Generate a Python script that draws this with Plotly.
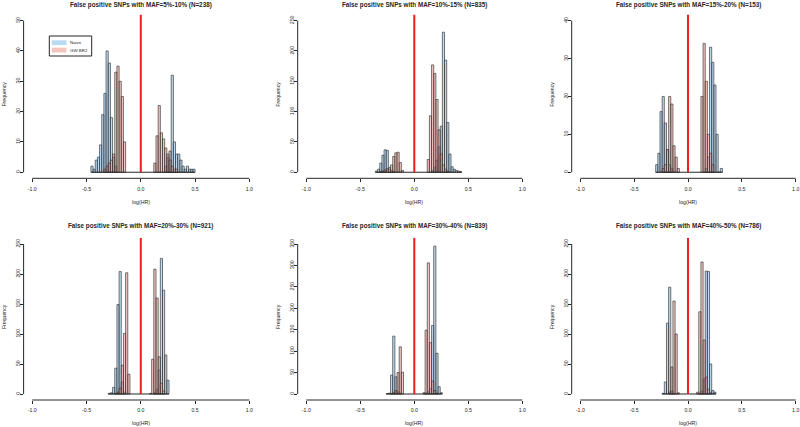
import plotly.graph_objects as go

# ---------------- data ----------------
BIN_WIDTH = 0.02
series_names = ["Naive", "GW BR2"]
panel_titles = [
    "False positive SNPs with MAF=5%-10% (N=238)",
    "False positive SNPs with MAF=10%-15% (N=835)",
    "False positive SNPs with MAF=15%-20% (N=153)",
    "False positive SNPs with MAF=20%-30% (N=921)",
    "False positive SNPs with MAF=30%-40% (N=839)",
    "False positive SNPs with MAF=40%-50% (N=786)",
]
y_limits = [50, 250, 40, 250, 350, 250]
y_tick_steps = [10, 50, 10, 50, 50, 50]
x_tick_values = [-1.0, -0.5, 0.0, 0.5, 1.0]
x_tick_labels = ["-1.0", "-0.5", "0.0", "0.5", "1.0"]
x_label = "log(HR)"
y_label = "Frequency"

# counts per 0.02-wide bin: first left edge + counts, for left and right clusters
p1_naive_left_from, p1_naive_left = -0.46, [2, 1, 4, 5, 9, 19, 26, 40, 36, 18, 5, 2]
p1_naive_right_from, p1_naive_right = 0.22, [2, 5, 7, 32, 10, 6, 6, 4, 2, 1, 2, 1, 1, 1]
p1_gw_left_from, p1_gw_left = -0.34, [1, 2, 3, 4, 6, 33, 35, 30, 25, 10]
p1_gw_right_from, p1_gw_right = 0.12, [3, 12, 22, 13, 11, 8, 6, 4, 2, 1, 1]

p2_naive_left_from, p2_naive_left = -0.36, [2, 5, 15, 28, 37, 36, 8, 3, 1]
p2_naive_right_from, p2_naive_right = 0.16, [3, 8, 20, 42, 76, 231, 185, 82, 30, 9, 5, 3, 2, 1]
p2_gw_left_from, p2_gw_left = -0.32, [1, 2, 4, 6, 5, 12, 26, 32, 33, 16, 3]
p2_gw_right_from, p2_gw_right = 0.12, [21, 93, 177, 163, 120, 70, 30, 12, 5, 2]

p3_naive_left_from, p3_naive_left = -0.30, [2, 5, 16, 20, 13, 6, 2, 1]
p3_naive_right_from, p3_naive_right = 0.16, [1, 4, 33, 29, 23, 10, 0, 1]
p3_gw_left_from, p3_gw_left = -0.24, [1, 2, 6, 20, 18, 7, 4, 1]
p3_gw_right_from, p3_gw_right = 0.12, [20, 34, 24, 10, 5, 2]

p4_naive_left_from, p4_naive_left = -0.30, [1, 2, 11, 43, 149, 204, 20, 3]
p4_naive_right_from, p4_naive_right = 0.12, [2, 8, 40, 226, 173, 65, 23]
p4_gw_left_from, p4_gw_left = -0.24, [1, 3, 10, 48, 101, 202, 33]
p4_gw_right_from, p4_gw_right = 0.08, [1, 58, 208, 160, 62, 18, 5]

p5_naive_left_from, p5_naive_left = -0.26, [1, 2, 44, 135, 40, 5, 2]
p5_naive_right_from, p5_naive_right = 0.10, [2, 5, 12, 160, 345, 95, 17, 3]
p5_gw_left_from, p5_gw_left = -0.22, [1, 3, 8, 50, 110, 51]
p5_gw_right_from, p5_gw_right = 0.08, [3, 149, 306, 120, 30, 8, 2]

p6_naive_left_from, p6_naive_left = -0.24, [1, 20, 118, 178, 5, 1]
p6_naive_right_from, p6_naive_right = 0.10, [1, 5, 25, 205, 204, 50, 6, 3]
p6_gw_left_from, p6_gw_left = -0.18, [3, 45, 155, 100, 2]
p6_gw_right_from, p6_gw_right = 0.08, [3, 137, 220, 90, 28, 8, 2]

panels = [
    [(p1_naive_left_from, p1_naive_left, p1_naive_right_from, p1_naive_right),
     (p1_gw_left_from, p1_gw_left, p1_gw_right_from, p1_gw_right)],
    [(p2_naive_left_from, p2_naive_left, p2_naive_right_from, p2_naive_right),
     (p2_gw_left_from, p2_gw_left, p2_gw_right_from, p2_gw_right)],
    [(p3_naive_left_from, p3_naive_left, p3_naive_right_from, p3_naive_right),
     (p3_gw_left_from, p3_gw_left, p3_gw_right_from, p3_gw_right)],
    [(p4_naive_left_from, p4_naive_left, p4_naive_right_from, p4_naive_right),
     (p4_gw_left_from, p4_gw_left, p4_gw_right_from, p4_gw_right)],
    [(p5_naive_left_from, p5_naive_left, p5_naive_right_from, p5_naive_right),
     (p5_gw_left_from, p5_gw_left, p5_gw_right_from, p5_gw_right)],
    [(p6_naive_left_from, p6_naive_left, p6_naive_right_from, p6_naive_right),
     (p6_gw_left_from, p6_gw_left, p6_gw_right_from, p6_gw_right)],
]

# ---------------- style / layout ----------------
W, H = 800, 427
FONT = "Liberation Sans"
INK = "#262626"
fills = ["rgba(110,175,230,0.45)", "rgba(235,125,105,0.42)"]
legend_fills = ["rgb(186,218,244)", "rgb(244,196,190)"]

col_px = [(23.6, 258.0), (297.7, 530.9), (571.7, 800.0)]
col_xrange = [(-1.08, 1.08), (-1.08, 1.08), (-1.08, 1.04)]
row_px = [(14.6, 178.3), (238.0, 400.0)]
title_y_px = [4.5, 225.5]
xlab_y_px = [201.5, 422.5]
ylab_dx_px = 19.5


def px_x(v):
    return v / W


def px_y(v):
    return 1 - v / H


def bin_centers(start, counts):
    return [round(start + BIN_WIDTH * (i + 0.5), 5) for i in range(len(counts))]


fig = go.Figure()
shapes = []
annotations = []
layout = {}

for p in range(6):
    r, c = divmod(p, 3)
    ax = "" if p == 0 else str(p + 1)
    xa, ya = "x" + ax, "y" + ax
    ylim = y_limits[p]

    lo_edge, hi_edge = 10.0, -10.0
    for s, (lf, lc, rf, rc) in enumerate(panels[p]):
        xs = bin_centers(lf, lc) + bin_centers(rf, rc)
        ys = lc + rc
        lo_edge = min(lo_edge, lf)
        hi_edge = max(hi_edge, rf + BIN_WIDTH * len(rc))
        fig.add_trace(go.Bar(
            x=xs, y=ys, width=BIN_WIDTH, name=series_names[s],
            marker=dict(color=fills[s], line=dict(color="#3a3a3a", width=0.7)),
            xaxis=xa, yaxis=ya, showlegend=False,
        ))
    # baseline of empty bins
    fig.add_trace(go.Scatter(
        x=[lo_edge, hi_edge], y=[0, 0], mode="lines",
        line=dict(color=INK, width=1), xaxis=xa, yaxis=ya,
        showlegend=False, hoverinfo="skip",
    ))

    x0p, x1p = col_px[c]
    y0p, y1p = row_px[r]
    layout["xaxis" + ax] = dict(
        domain=[px_x(x0p), px_x(x1p)], range=list(col_xrange[c]), anchor=ya,
        tickvals=x_tick_values, ticktext=x_tick_labels, ticks="outside",
        ticklen=3, tickwidth=1, tickcolor=INK, showline=False, showgrid=False,
        zeroline=False, tickfont=dict(family=FONT, size=5.2, color=INK),
        ticklabelstandoff=2,
    )
    yt = list(range(0, ylim + 1, y_tick_steps[p]))
    layout["yaxis" + ax] = dict(
        domain=[px_y(y1p), px_y(y0p)], range=[-0.04 * ylim, 1.04 * ylim],
        anchor=xa, tickvals=yt, ticktext=[str(v) for v in yt], ticks="outside",
        ticklen=2.5, tickwidth=1, tickcolor=INK, showline=False, showgrid=False,
        zeroline=False, tickangle=-90,
        tickfont=dict(family=FONT, size=5.2, color=INK), ticklabelstandoff=-2,
    )
    # R-style axis lines (first to last tick)
    shapes.append(dict(type="line", xref=xa, yref=ya + " domain",
                       x0=x_tick_values[0], x1=x_tick_values[-1], y0=0, y1=0,
                       line=dict(color=INK, width=1)))
    shapes.append(dict(type="line", xref=xa + " domain", yref=ya,
                       x0=0, x1=0, y0=yt[0], y1=yt[-1],
                       line=dict(color=INK, width=1)))
    # red reference line at log(HR)=0
    shapes.append(dict(type="line", xref=xa, yref=ya, x0=0, x1=0,
                       y0=0, y1=1.04 * ylim, line=dict(color="#ee1c1c", width=2)))

    annotations.append(dict(text="<b>" + panel_titles[p] + "</b>", xref=xa, x=0,
                            yref="paper", y=px_y(title_y_px[r]), showarrow=False,
                            xanchor="center", yanchor="middle",
                            font=dict(family=FONT, size=6.3, color=INK)))
    annotations.append(dict(text=x_label, xref=xa, x=0, yref="paper",
                            y=px_y(xlab_y_px[r]), showarrow=False,
                            xanchor="center", yanchor="middle",
                            font=dict(family=FONT, size=5.2, color=INK)))
    annotations.append(dict(text=y_label, xref="paper", x=px_x(x0p - ylab_dx_px),
                            yref="paper", y=px_y((y0p + y1p) / 2 - 2),
                            showarrow=False, textangle=-90,
                            xanchor="center", yanchor="middle",
                            font=dict(family=FONT, size=5.2, color=INK)))

# legend box (panel 1), drawn R-style
lg_box = (49.3, 36.0, 91.7, 56.0)
shapes.append(dict(type="rect", xref="paper", yref="paper",
                   x0=px_x(lg_box[0]), x1=px_x(lg_box[2]),
                   y0=px_y(lg_box[3]), y1=px_y(lg_box[1]),
                   line=dict(color=INK, width=1), fillcolor="white", layer="below"))
for i, name in enumerate(series_names):
    yc = 42.7 + i * 7.4
    shapes.append(dict(type="rect", xref="paper", yref="paper",
                       x0=px_x(51.8), x1=px_x(66.5), y0=px_y(yc + 2.4), y1=px_y(yc - 2.4),
                       line=dict(width=0), fillcolor=legend_fills[i]))
    annotations.append(dict(text=name, xref="paper", x=px_x(68.0), yref="paper",
                            y=px_y(yc), showarrow=False, xanchor="left",
                            yanchor="middle",
                            font=dict(family=FONT, size=4.4, color=INK)))

fig.update_layout(
    width=W, height=H, margin=dict(l=0, r=0, t=0, b=0),
    paper_bgcolor="white", plot_bgcolor="white", barmode="overlay",
    bargap=0, shapes=shapes, annotations=annotations, showlegend=False,
    hovermode=False, **layout,
)

fig.write_html(
    "out.html",
    config={"displayModeBar": False, "staticPlot": True},
    post_script="document.body.style.margin='0';document.body.style.overflow='hidden';",
)
